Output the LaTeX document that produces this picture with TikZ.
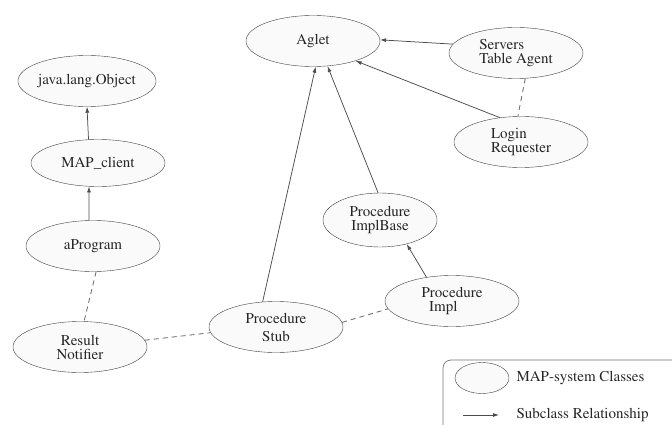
\documentclass[tikz,border=0pt]{standalone}
\usepackage[T1]{fontenc}
\usepackage{times}
\usetikzlibrary{arrows.meta,shapes.geometric}

\begin{document}
\begin{tikzpicture}[x=1pt, y=-1pt, font=\fontsize{15}{14}\selectfont, text=black!85,
  cls/.style={draw=black!75, ellipse, fill=gray!4, inner sep=0pt, minimum width=134pt, minimum height=51pt, align=center},
  sub/.style={draw=black!70, line width=0.75pt, -{Latex[length=6pt,width=4pt]}},
  uses/.style={draw=black!60, line width=0.8pt, dash pattern=on 5pt off 4pt}]
  \useasboundingbox (0,0) rectangle (672,425);
  \clip (0,0) rectangle (672,425);
  % classes
  \node[cls] (aglet) at (313,41) {Aglet};
  \node[cls, minimum width=125pt] (object) at (87,81) {java.lang.Object};
  \node[cls, minimum height=47pt] (client) at (98,163) {MAP\_client};
  \node[cls] (prog) at (93,246) {aProgram};
  \node[cls] (notifier) at (80,347) {Result\\Notifier};
  \node[cls, font=\fontsize{15}{18}\selectfont] (stub) at (276,327) {Procedure\\Stub};
  \node[cls, align=left] (impl) at (452,301) {Procedure\\\hspace{0.5em}Impl};
  \node[cls, minimum width=114pt, minimum height=54pt] (implbase) at (380,220) {Procedure\\ImplBase};
  \node[cls, align=left] (servers) at (516,53) {Servers\\Table Agent};
  \node[cls, align=left] (login) at (521,142) {Login\\Requester};
  % subclass links
  \draw[sub] (client.112) -- (object.south);
  \draw[sub] (prog.99) -- (client.249);
  \draw[sub] (stub.118) -- (aglet.276);
  \draw[sub] (implbase.94) -- (aglet.300);
  \draw[sub] (impl.137) -- (implbase.318);
  \draw[sub] (servers.172) -- (aglet.1);
  \draw[sub] (login.131) -- (aglet.335);
  % other links
  \draw[uses] (servers.290) -- (login.97);
  \draw[uses] (prog.277) -- (notifier.81);
  \draw[uses] (notifier.6) -- (stub.185);
  \draw[uses] (stub.4) -- (impl.187);
  % legend
  \draw[draw=black!55, line width=0.7pt, rounded corners=8pt] (443,360) rectangle (720,470);
  \node[cls, minimum width=54pt, minimum height=31pt] (keycls) at (482,378) {};
  \node[anchor=west] (keyclstext) at (513,378) {MAP-system Classes};
  \coordinate (keya) at (463,415);
  \coordinate (keyb) at (499,415);
  \draw[sub] (keya) -- (keyb);
  \node[anchor=west] (keysubtext) at (513,415) {Subclass Relationship};
\end{tikzpicture}
\end{document}
